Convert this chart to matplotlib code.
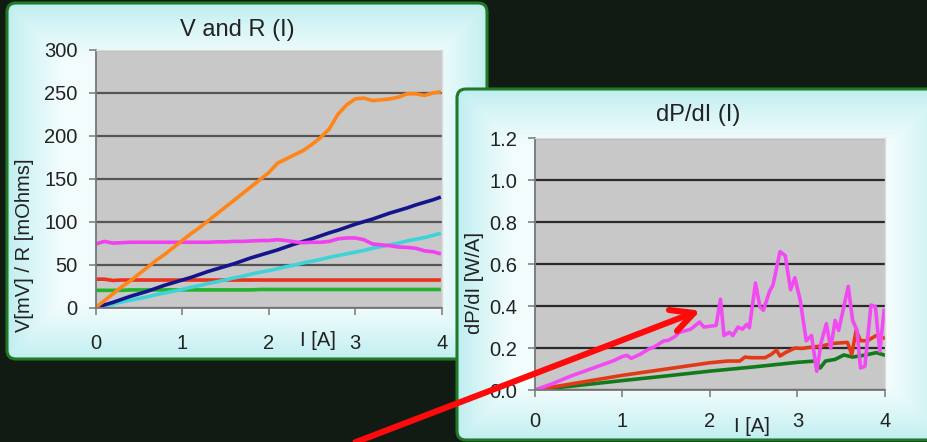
import numpy as np
import matplotlib
matplotlib.use("Agg")
import matplotlib.pyplot as plt
from matplotlib.patches import FancyBboxPatch
from matplotlib.lines import Line2D

plt.rcParams['font.family'] = ['Liberation Sans', 'DejaVu Sans']

# ---------------- V and R (I) ----------------
I_vr = [0.0, 0.1, 0.2, 0.3, 0.4, 0.5, 0.6, 0.7, 0.8, 0.9, 1.0, 1.1, 1.2, 1.3,
        1.4, 1.5, 1.6, 1.7, 1.8, 1.9, 2.0, 2.1, 2.2, 2.3, 2.4, 2.5, 2.6, 2.7,
        2.8, 2.9, 3.0, 3.1, 3.2, 3.3, 3.4, 3.5, 3.6, 3.7, 3.8, 3.9, 3.97]
v_orange = [0, 8, 16, 24, 31, 39, 47, 55, 62, 70, 78, 86, 93, 101, 109, 117,
            125, 133, 141, 149, 157, 168, 173, 178, 183, 190, 198, 208, 225,
            236, 243, 244, 241, 242, 243, 245, 249, 249, 247, 250, 251]
v_navy = [0, 3, 6, 9.5, 13, 16, 19, 22.5, 26, 29, 32, 35, 38.5, 42, 45, 48,
          51, 54.5, 58, 61, 64, 67, 70.5, 74, 77, 80, 83.5, 87, 90, 93.5, 97,
          100, 103, 106.5, 110, 113, 116, 119.5, 122.5, 125.5, 128]
v_cyan = [0, 2, 4, 6.5, 8.5, 10.5, 12.5, 15, 17, 19, 21, 23.5, 25.5, 28, 30,
          32, 34.5, 36.5, 39, 41, 43, 45, 47.5, 49.5, 52, 54, 56, 58.5, 60.5,
          62.5, 64.5, 66.5, 69, 71, 73, 75, 77.5, 79.5, 81.5, 84, 86]
r_magenta = [74, 77, 75, 75.5, 76, 76, 76, 76, 76, 76, 76, 76, 76, 76, 76.5,
             76.5, 77, 77, 77.5, 78, 78, 79, 78, 76.5, 75.5, 76, 76, 77, 80,
             81, 81, 79, 74, 73, 72, 70.5, 70, 69, 66, 65, 63]
r_red = [33, 33, 31.5, 32, 32, 32, 32, 32, 32, 32, 32, 32, 32, 32, 32, 32, 32,
         32, 32, 32, 32, 32, 32, 32, 32, 32, 32, 32, 32, 32, 32, 32, 32, 32,
         32, 32, 32, 32, 32, 32, 32]
r_green = [20, 20, 20, 20, 20.5, 20.5, 20.5, 20.5, 20.5, 20.5, 20.5, 20.5,
           20.5, 20.5, 20.5, 20.5, 20.5, 20.5, 20.5, 21, 21, 21, 21, 21, 21,
           21, 21, 21, 21, 21, 21, 21, 21, 21, 21, 21, 21, 21, 21, 21, 21]
vr_yticks = [0, 50, 100, 150, 200, 250, 300]
x_ticks = [0, 1, 2, 3, 4]

# ---------------- dP/dI (I) ----------------
I_mag = [0.0, 0.2, 0.4, 0.6, 0.8, 0.9, 1.0, 1.05, 1.1, 1.2, 1.3, 1.37, 1.47,
         1.52, 1.6, 1.65, 1.78, 1.88, 1.93, 2.07, 2.12, 2.16, 2.22, 2.26,
         2.32, 2.37, 2.42, 2.45, 2.52, 2.57, 2.61, 2.68, 2.72, 2.8, 2.86,
         2.92, 2.97, 3.03, 3.1, 3.16, 3.22, 3.27, 3.33, 3.38, 3.43, 3.47,
         3.58, 3.63, 3.68, 3.72, 3.77, 3.84, 3.89, 3.94, 3.99]
p_mag = [0.0, 0.03, 0.065, 0.095, 0.125, 0.14, 0.16, 0.165, 0.151, 0.17,
         0.195, 0.207, 0.234, 0.236, 0.255, 0.275, 0.29, 0.324, 0.30, 0.308,
         0.433, 0.26, 0.275, 0.26, 0.30, 0.29, 0.313, 0.297, 0.51, 0.397,
         0.38, 0.47, 0.50, 0.66, 0.64, 0.478, 0.535, 0.43, 0.235, 0.26, 0.089,
         0.227, 0.316, 0.2, 0.332, 0.284, 0.494, 0.332, 0.284, 0.105, 0.113,
         0.405, 0.397, 0.186, 0.38]
I_red = [0.0, 0.5, 1.0, 1.5, 2.0, 2.2, 2.34, 2.4, 2.47, 2.63, 2.7, 2.76, 2.8,
         2.86, 2.97, 3.05, 3.13, 3.28, 3.4, 3.57, 3.62, 3.67, 3.72, 3.8, 3.9,
         3.99]
p_red = [0.0, 0.035, 0.07, 0.1, 0.13, 0.138, 0.138, 0.157, 0.154, 0.154,
         0.17, 0.19, 0.162, 0.178, 0.2, 0.198, 0.203, 0.21, 0.222, 0.227,
         0.17, 0.284, 0.235, 0.235, 0.26, 0.248]
I_grn = [0.0, 0.5, 1.0, 1.5, 2.0, 2.5, 3.0, 3.2, 3.26, 3.32, 3.43, 3.53, 3.63,
         3.78, 3.9, 3.99]
p_grn = [0.0, 0.022, 0.045, 0.067, 0.09, 0.11, 0.132, 0.138, 0.105, 0.138,
         0.146, 0.167, 0.157, 0.167, 0.178, 0.167]
dp_yticks = [0.0, 0.2, 0.4, 0.6, 0.8, 1.0, 1.2]

W, H = 928, 442
TXT = '#222222'
fig = plt.figure(figsize=(W / 100, H / 100), dpi=100)
fig.patch.set_facecolor('#111b14')

def frac(x0, y0, x1, y1):
    return [x0 / W, 1 - y1 / H, (x1 - x0) / W, (y1 - y0) / H]

def panel(x0, y0, x1, y1, z):
    ax = fig.add_axes([0, 0, 1, 1], zorder=z)
    ax.set_xlim(0, W)
    ax.set_ylim(H, 0)
    ax.axis('off')
    ax.patch.set_alpha(0)
    w, h = x1 - x0, y1 - y0
    yy, xx = np.mgrid[0:int(h), 0:int(w)]
    d = np.minimum(np.minimum(xx, w - xx), np.minimum(yy, h - yy))
    t = np.clip(d / 55.0, 0, 1) ** 0.8
    edge = np.array([0.74, 0.93, 0.94])
    centre = np.array([0.95, 0.99, 0.99])
    img = edge[None, None, :] + (centre - edge)[None, None, :] * t[..., None]
    box = FancyBboxPatch((x0, y0), w, h, boxstyle='round,pad=0,rounding_size=9',
                         fc='none', ec='#1f7a25', lw=2.2)
    ax.add_patch(box)
    im = ax.imshow(img, extent=(x0, x1, y1, y0), interpolation='bilinear')
    im.set_clip_path(box)
    return ax

def style_axes(ax, gridc):
    ax.set_facecolor('#c8c8c8')
    ax.grid(axis='y', color=gridc, lw=1.6)
    ax.set_axisbelow(True)
    for s in ('top', 'right'):
        ax.spines[s].set_color('#dcdcdc')
        ax.spines[s].set_linewidth(1.0)
    for s in ('left', 'bottom'):
        ax.spines[s].set_color('#777777')
        ax.spines[s].set_linewidth(1.3)
    ax.tick_params(direction='out', length=5, width=1.1, color='#777777',
                   labelsize=14.5, labelcolor=TXT)

lw = 2.6

# left panel and chart
panel(7, 3, 487, 359, 0)
ax1 = fig.add_axes(frac(95.7, 50, 441.7, 307.5), zorder=1)
style_axes(ax1, '#555555')
ax1.plot(I_vr, r_green, color='#22b42a', lw=lw)
ax1.plot(I_vr, r_red, color='#e8341c', lw=lw)
ax1.plot(I_vr, v_cyan, color='#3fd3d8', lw=lw)
ax1.plot(I_vr, v_navy, color='#14148c', lw=lw)
ax1.plot(I_vr, r_magenta, color='#f040f0', lw=lw)
ax1.plot(I_vr, v_orange, color='#ff8518', lw=lw)
ax1.set_xlim(0, 4)
ax1.set_ylim(0, 300)
ax1.set_yticks(vr_yticks)
ax1.set_xticks(x_ticks)
ax1.tick_params(axis='y', pad=8)
ax1.tick_params(axis='x', pad=14)
fig.text(237 / W, 1 - 30 / H, 'V and R (I)', ha='center', va='center',
         fontsize=17, color=TXT, zorder=5)
fig.text(25 / W, 1 - 245 / H, 'V[mV] / R [mOhms]', rotation=90, ha='center',
         va='center', fontsize=14.5, color=TXT)
fig.text(318 / W, 1 - 340 / H, 'I [A]', ha='center', va='center',
         fontsize=14.5, color=TXT)

# right panel and chart
panel(457, 89, 945, 440, 2)
ax2 = fig.add_axes(frac(535, 138.3, 885, 390), zorder=3)
style_axes(ax2, '#2a2a2a')
ax2.plot(I_grn, p_grn, color='#137a1c', lw=lw)
ax2.plot(I_red, p_red, color='#e23a16', lw=lw)
ax2.plot(I_mag, p_mag, color='#f24af2', lw=lw)
ax2.set_xlim(0, 4)
ax2.set_ylim(0, 1.2)
ax2.set_yticks(dp_yticks)
ax2.set_yticklabels([f'{v:.1f}' for v in dp_yticks])
ax2.set_xticks(x_ticks)
ax2.tick_params(axis='y', pad=8)
ax2.tick_params(axis='x', pad=11)
t2 = fig.add_axes([0, 0, 1, 1], zorder=4)
t2.axis('off')
t2.patch.set_alpha(0)
t2.set_xlim(0, W)
t2.set_ylim(H, 0)
t2.text(698, 115, 'dP/dI (I)', ha='center', va='center', fontsize=17,
        color=TXT)
t2.text(475, 283, 'dP/dI [W/A]', rotation=90, ha='center', va='center',
        fontsize=14.5, color=TXT)
t2.text(752, 427, 'I [A]', ha='center', va='center', fontsize=14.5,
        color=TXT)

# red pointer arrow
tip = (693, 313)
tail = (330, 452)
t2.add_line(Line2D([tail[0], tip[0]], [tail[1], tip[1]], color='#ff0a0a',
                   lw=4.4, solid_capstyle='butt'))
for arm in ((669, 310), (677, 331)):
    t2.add_line(Line2D([arm[0], tip[0] + 1], [arm[1], tip[1]], color='#ff0a0a',
                       lw=4.4, solid_capstyle='round'))

fig.savefig('out.png', dpi=100, facecolor=fig.get_facecolor())
